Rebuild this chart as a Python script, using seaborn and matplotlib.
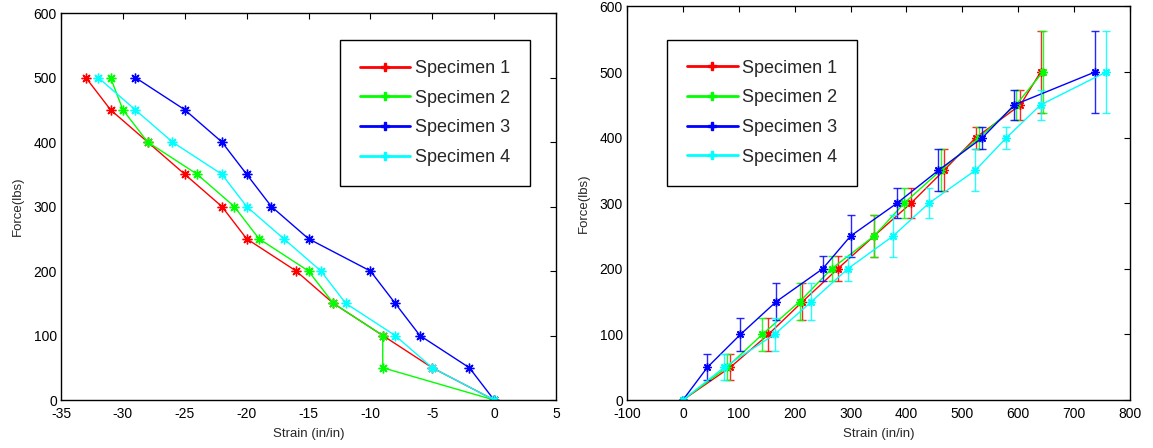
import numpy as np
import pandas as pd
import seaborn as sns
import matplotlib
matplotlib.use("Agg")
import matplotlib.pyplot as plt
from matplotlib.lines import Line2D

# ---------------- data ----------------
force = [0, 50, 100, 150, 200, 250, 300, 350, 400, 450, 500]

# left panel (compression strain)
left_s1 = [0, -5, -9, -13, -16, -20, -22, -25, -28, -31, -33]
left_s2 = [0, -9, -9, -13, -15, -19, -21, -24, -28, -30, -31]
left_s3 = [0, -2, -6, -8, -10, -15, -18, -20, -22, -25, -29]
left_s4 = [0, -5, -8, -12, -14, -17, -20, -22, -26, -29, -32]

# right panel (tension strain) with force error bars
right_s1 = [0, 85, 153, 214, 277, 342, 408, 467, 524, 604, 640]
right_s2 = [0, 79, 142, 209, 266, 342, 396, 461, 530, 596, 644]
right_s3 = [0, 44, 103, 167, 250, 300, 383, 457, 536, 593, 737]
right_s4 = [0, 74, 164, 230, 295, 376, 440, 523, 579, 640, 757]
force_err = [0, 20, 25, 28, 19, 32, 23, 32, 17, 23, 62]

labels = ["Specimen 1", "Specimen 2", "Specimen 3", "Specimen 4"]
colors = ["#FF0000", "#00FF00", "#0000FF", "#00FFFF"]

left_x_ticks = [-35, -30, -25, -20, -15, -10, -5, 0, 5]
right_x_ticks = [-100, 0, 100, 200, 300, 400, 500, 600, 700, 800]
y_ticks = [0, 100, 200, 300, 400, 500, 600]

# ---------------- style ----------------
sns.set_theme(style="white")
plt.rcParams["font.family"] = ["Liberation Sans", "DejaVu Sans"]
plt.rcParams["axes.unicode_minus"] = False
plt.rcParams["axes.edgecolor"] = "black"
plt.rcParams["axes.linewidth"] = 1.0

W, H = 1153, 448
fig = plt.figure(figsize=(W / 100, H / 100), dpi=100)
axL = fig.add_axes([61 / W, 1 - 400 / H, (556 - 61) / W, (400 - 13) / H])
axR = fig.add_axes([627 / W, 1 - 400 / H, (1130 - 627) / W, (400 - 6.5) / H])

marker = (8, 2, 0)

def frame(ax, xlim, xticks):
    ax.set_xlim(*xlim)
    ax.set_ylim(0, 600)
    ax.set_xticks(xticks)
    ax.set_yticks(y_ticks)
    ax.tick_params(axis="both", which="both", direction="in", top=True, right=True,
                   length=4, width=0.8, labelsize=10, colors="black")
    ax.tick_params(axis="x", pad=5)
    ax.tick_params(axis="y", pad=3)
    for s in ax.spines.values():
        s.set_visible(True)
        s.set_color("black")
        s.set_linewidth(1.0)
    ax.set_xlabel("Strain (in/in)", fontsize=9.5, labelpad=5)
    ax.set_ylabel("Force(lbs)", fontsize=9.5, labelpad=7)
    ax.grid(False)

# ---- left panel ----
left_series = [left_s1, left_s2, left_s3, left_s4]
for vals, lab, col in zip(left_series, labels, colors):
    df = pd.DataFrame({"strain": vals, "force": force})
    sns.lineplot(data=df, x="strain", y="force", ax=axL, sort=False, estimator=None,
                 color=col, linewidth=1.0, marker=marker, markersize=7,
                 markeredgewidth=1.0, markeredgecolor=col, legend=False)
frame(axL, (-35, 5), left_x_ticks)

# ---- right panel ----
right_series = [right_s1, right_s2, right_s3, right_s4]
for vals, lab, col in zip(right_series, labels, colors):
    df = pd.DataFrame({"strain": vals, "force": force, "err": force_err})
    sns.lineplot(data=df, x="strain", y="force", ax=axR, sort=False, estimator=None,
                 color=col, linewidth=1.0, marker=marker, markersize=6,
                 markeredgewidth=1.0, markeredgecolor=col, legend=False)
    axR.errorbar(df["strain"], df["force"], yerr=df["err"], fmt="none",
                 ecolor=col, elinewidth=1.0, capsize=3, capthick=1.0, alpha=0.85)
frame(axR, (-100, 800), right_x_ticks)

# ---- legends ----
handles = [Line2D([0], [0], color=c, linewidth=2, marker="P", markersize=6,
                  markeredgecolor=c, markerfacecolor=c) for c in colors]
legkw = dict(fontsize=13, frameon=True, fancybox=False, edgecolor="black",
             framealpha=1, handlelength=2.8, labelspacing=0.7, borderpad=1.1,
             handletextpad=0.25, borderaxespad=0)
legL = axL.legend(handles, labels, loc="upper right", bbox_to_anchor=(0.947, 0.930), **legkw)
legR = axR.legend(handles, labels, loc="upper left", bbox_to_anchor=(0.080, 0.915), **legkw)
for leg in (legL, legR):
    leg.get_frame().set_linewidth(1.0)

fig.savefig("out.png", dpi=100)
